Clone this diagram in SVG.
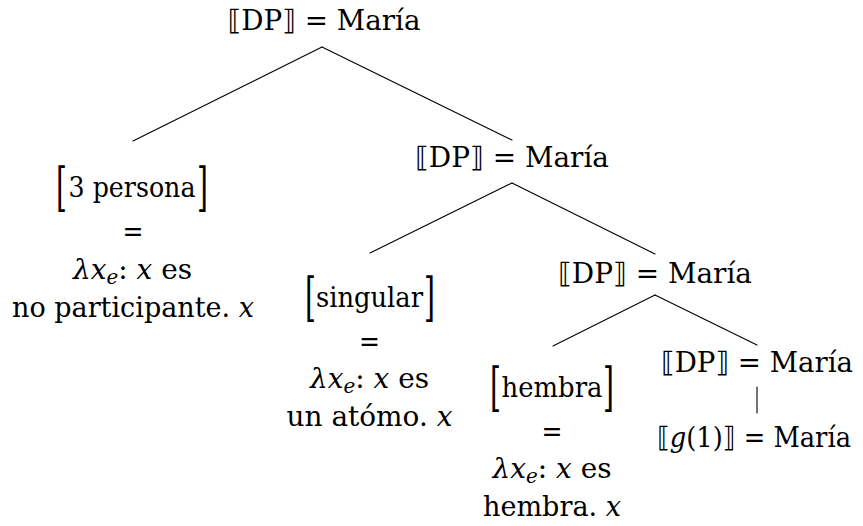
<svg xmlns="http://www.w3.org/2000/svg" width="863" height="526" viewBox="0 0 863 526">
<style>
.t { font-family: 'DejaVu Serif', serif; font-size: 28px; fill: #000; text-anchor: middle; }
.i { font-style: italic; }
.s { font-family: 'DejaVu Sans', 'DejaVu Serif', sans-serif; fill: #000; }
.br { font-family: 'DejaVu Serif', serif; font-size: 28px; fill: #000; }
.e { stroke: #000; stroke-width: 1.1; fill: none; stroke-linecap: round; }
</style>
<rect width="863" height="526" fill="#fff"/>
<g id="connectors">
  <line class="e" x1="322" y1="47" x2="133" y2="141"/>
  <line class="e" x1="322" y1="47" x2="512" y2="140"/>
  <line class="e" x1="512" y1="183" x2="370" y2="253"/>
  <line class="e" x1="512" y1="183" x2="655" y2="254"/>
  <line class="e" x1="655" y1="295" x2="553" y2="346"/>
  <line class="e" x1="655" y1="295" x2="757" y2="345"/>
  <line class="e" x1="757" y1="387" x2="757" y2="413"/>
</g>
<g id="n0"><text class="t" x="324" y="30" textLength="193" lengthAdjust="spacingAndGlyphs"><tspan class="s">⟦</tspan>DP<tspan class="s">⟧</tspan> = María</text></g>
<g id="n1"><text class="t" x="512" y="167" textLength="194" lengthAdjust="spacingAndGlyphs"><tspan class="s">⟦</tspan>DP<tspan class="s">⟧</tspan> = María</text></g>
<g id="n2"><text class="t" x="655" y="283" textLength="194" lengthAdjust="spacingAndGlyphs"><tspan class="s">⟦</tspan>DP<tspan class="s">⟧</tspan> = María</text></g>
<g id="n3"><text class="t" x="757" y="372" textLength="192" lengthAdjust="spacingAndGlyphs"><tspan class="s">⟦</tspan>DP<tspan class="s">⟧</tspan> = María</text></g>
<g id="n4"><text class="t" x="754" y="447" textLength="194" lengthAdjust="spacingAndGlyphs"><tspan class="s">⟦</tspan><tspan class="i">g</tspan>(1)<tspan class="s">⟧</tspan> = María</text></g>
<g id="n5">
  <text class="br" transform="translate(56,205) scale(1,1.88)">[</text>
  <text class="br" text-anchor="end" transform="translate(208,205) scale(1,1.88)">]</text>
  <text class="t" x="132" y="197" textLength="127" lengthAdjust="spacingAndGlyphs">3 persona</text>
  <text class="t" x="133" y="241" textLength="21" lengthAdjust="spacingAndGlyphs">=</text>
  <text class="t" x="132.5" y="279" textLength="119" lengthAdjust="spacingAndGlyphs"><tspan class="i">λx</tspan><tspan class="i" font-size="20" dy="5">e</tspan><tspan dy="-5">: </tspan><tspan class="i">x</tspan> es</text>
  <text class="t" x="133" y="317" textLength="242" lengthAdjust="spacingAndGlyphs">no participante. <tspan class="i">x</tspan></text>
</g>
<g id="n6">
  <text class="br" transform="translate(305,315) scale(1,1.88)">[</text>
  <text class="br" text-anchor="end" transform="translate(435,315) scale(1,1.88)">]</text>
  <text class="t" x="369.5" y="307" textLength="107" lengthAdjust="spacingAndGlyphs">singular</text>
  <text class="t" x="369.5" y="351" textLength="21" lengthAdjust="spacingAndGlyphs">=</text>
  <text class="t" x="369.5" y="388" textLength="119" lengthAdjust="spacingAndGlyphs"><tspan class="i">λx</tspan><tspan class="i" font-size="20" dy="5">e</tspan><tspan dy="-5">: </tspan><tspan class="i">x</tspan> es</text>
  <text class="t" x="369.5" y="426" textLength="166" lengthAdjust="spacingAndGlyphs">un atómo. <tspan class="i">x</tspan></text>
</g>
<g id="n7">
  <text class="br" transform="translate(490,405) scale(1,1.88)">[</text>
  <text class="br" text-anchor="end" transform="translate(614,405) scale(1,1.88)">]</text>
  <text class="t" x="552" y="397" textLength="101" lengthAdjust="spacingAndGlyphs">hembra</text>
  <text class="t" x="552" y="441" textLength="21" lengthAdjust="spacingAndGlyphs">=</text>
  <text class="t" x="552" y="478" textLength="119" lengthAdjust="spacingAndGlyphs"><tspan class="i">λx</tspan><tspan class="i" font-size="20" dy="5">e</tspan><tspan dy="-5">: </tspan><tspan class="i">x</tspan> es</text>
  <text class="t" x="552" y="516" textLength="138" lengthAdjust="spacingAndGlyphs">hembra. <tspan class="i">x</tspan></text>
</g>
</svg>
